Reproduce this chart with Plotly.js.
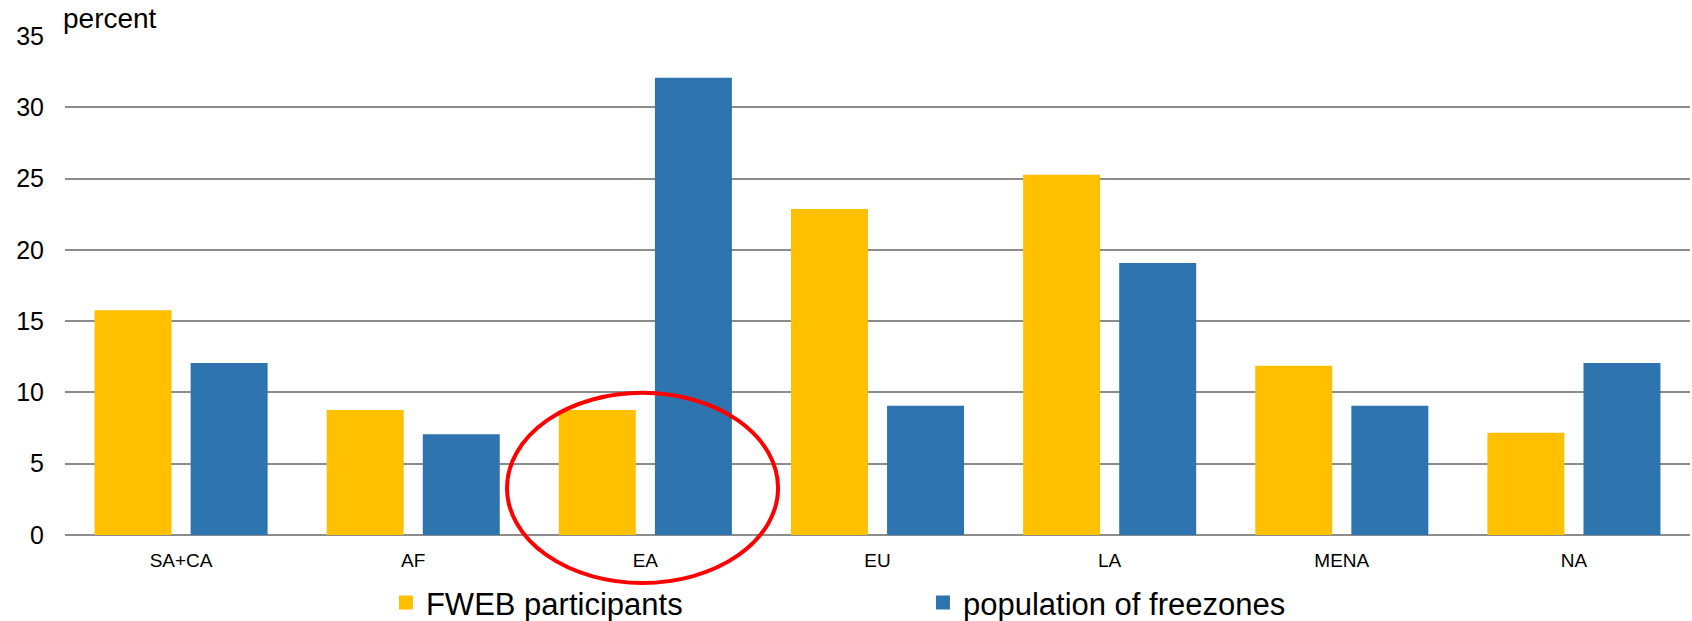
<!DOCTYPE html>
<html>
<head>
<meta charset="utf-8">
<script src="https://cdn.plot.ly/plotly-3.0.1.min.js"></script>
<style>
  html, body { margin: 0; padding: 0; background: #fff; }
  #chart { width: 1692px; height: 621px; }
</style>
</head>
<body>
<div id="chart"></div>
<script>
// Regions
const regions = ["SA+CA", "AF", "EA", "EU", "LA", "MENA", "NA"];

// Share of FWEB participants by region (percent)
const fwebParticipants = [15.7, 8.7, 8.7, 22.8, 25.2, 11.8, 7.1];

// Share of freezone population by region (percent)
const freezonePopulation = [12, 7, 32, 9, 19, 9, 12];

const yTicks = [0, 5, 10, 15, 20, 25, 30, 35];

const yellow = "#FFC000";
const blue = "#2E74AE";

const traces = [
  {
    type: "bar",
    name: "FWEB participants",
    x: regions,
    y: fwebParticipants,
    marker: { color: yellow, line: { color: yellow, width: 2 } },
    hoverinfo: "x+y+name"
  },
  {
    type: "bar",
    name: "population of freezones",
    x: regions,
    y: freezonePopulation,
    marker: { color: blue, line: { color: blue, width: 2 } },
    hoverinfo: "x+y+name"
  }
];

const layout = {
  width: 1692,
  height: 621,
  margin: { l: 65, r: 2, t: 36, b: 86, autoexpand: false },
  paper_bgcolor: "#ffffff",
  plot_bgcolor: "#ffffff",
  font: { family: "Liberation Sans, Arial, sans-serif", color: "#000" },
  barmode: "group",
  bargap: 0.172,
  bargroupgap: 0.22,
  showlegend: true,
  legend: {
    orientation: "h",
    x: 0.1975,
    xanchor: "left",
    y: -0.136,
    yanchor: "middle",
    entrywidth: 492,
    bgcolor: "rgba(0,0,0,0)",
    font: { size: 31, color: "#000" },
    traceorder: "normal"
  },
  xaxis: {
    type: "category",
    tickfont: { size: 19, color: "#000" },
    ticks: "",
    ticklabelstandoff: 12,
    showgrid: false,
    showline: false,
    zeroline: false,
    fixedrange: true
  },
  yaxis: {
    range: [0, 35],
    tickvals: yTicks,
    ticktext: yTicks.map(String),
    tickfont: { size: 25, color: "#000" },
    ticks: "",
    ticklabelstandoff: 20,
    showgrid: true,
    gridcolor: "#8c8c8c",
    gridwidth: 2,
    zeroline: true,
    zerolinecolor: "#8c8c8c",
    zerolinewidth: 2,
    showline: false,
    fixedrange: true
  },
  annotations: [
    {
      text: "percent",
      xref: "paper",
      yref: "paper",
      x: 0,
      y: 1,
      xanchor: "left",
      yanchor: "bottom",
      xshift: -4,
      yshift: 0,
      showarrow: false,
      font: { size: 28, color: "#000" }
    }
  ],
  shapes: [
    {
      // highlight ring around the EA group
      type: "circle",
      xref: "paper",
      yref: "paper",
      x0: 0.272,
      x1: 0.4388,
      y0: -0.0963,
      y1: 0.2849,
      line: { color: "#FF0000", width: 4 },
      fillcolor: "rgba(0,0,0,0)",
      layer: "above"
    }
  ]
};

Plotly.newPlot("chart", traces, layout, { displayModeBar: false, staticPlot: true });
</script>
</body>
</html>
